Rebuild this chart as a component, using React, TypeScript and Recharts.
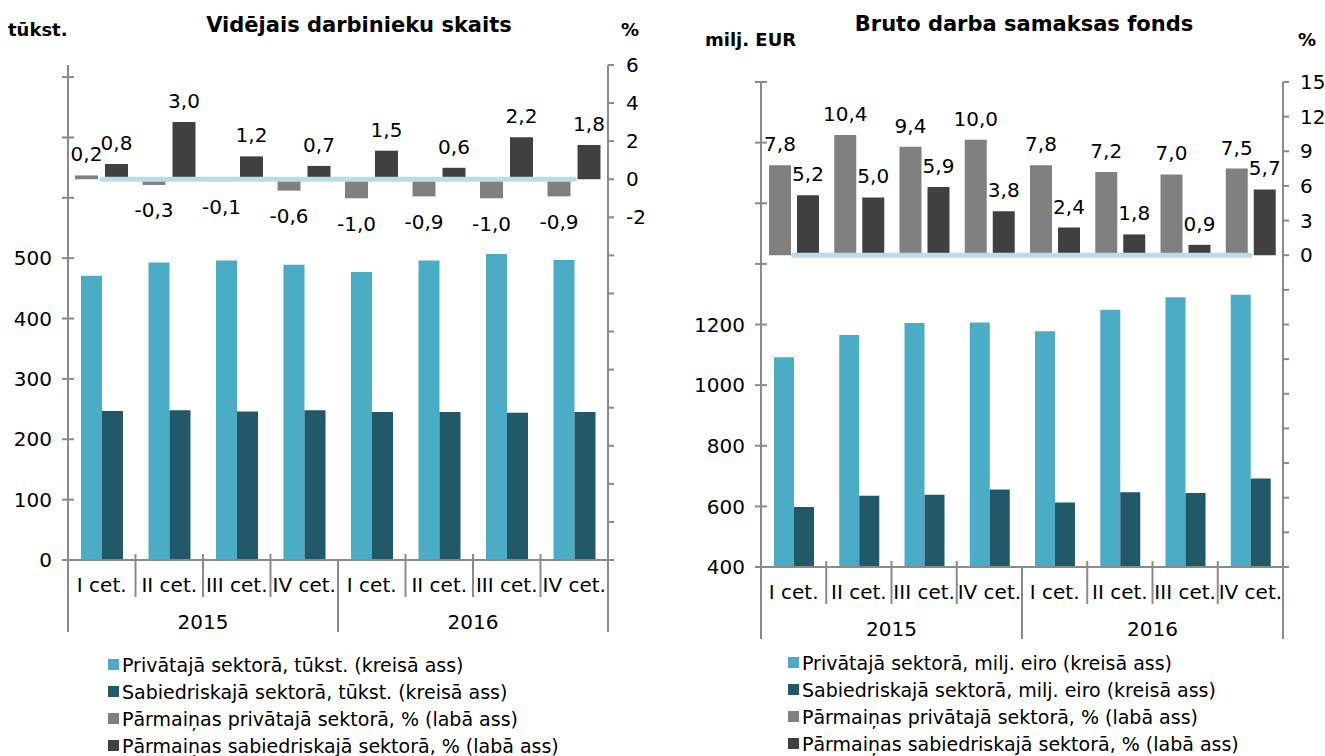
import React from 'react';
import { ComposedChart, Bar, XAxis, YAxis, LabelList, ReferenceLine } from 'recharts';

// ---------- data ----------
const quarters = ['I cet.', 'II cet.', 'III cet.', 'IV cet.', 'I cet.', 'II cet.', 'III cet.', 'IV cet.'];
const years = ['2015', '2016'];
const periodKeys = ['2015-I', '2015-II', '2015-III', '2015-IV', '2016-I', '2016-II', '2016-III', '2016-IV'];

const empPrivate = [471, 493, 496, 489, 477, 496, 507, 497];
const empPublic = [247, 248, 246, 248, 245, 245, 244, 245];
const empPrivateChange = [0.2, -0.3, -0.1, -0.6, -1.0, -0.9, -1.0, -0.9];
const empPublicChange = [0.8, 3.0, 1.2, 0.7, 1.5, 0.6, 2.2, 1.8];

const wagePrivate = [1092, 1165, 1205, 1207, 1178, 1249, 1290, 1298];
const wagePublic = [598, 635, 638, 656, 613, 647, 644, 692];
const wagePrivateChange = [7.8, 10.4, 9.4, 10.0, 7.8, 7.2, 7.0, 7.5];
const wagePublicChange = [5.2, 5.0, 5.9, 3.8, 2.4, 1.8, 0.9, 5.7];

const empLeftTicks = [0, 100, 200, 300, 400, 500, 600, 700, 800];
const empRightTicks = [-20, -18, -16, -14, -12, -10, -8, -6, -4, -2, 0, 2, 4, 6];
const wageLeftTicks = [400, 600, 800, 1000, 1200, 1400, 1600, 1800, 2000];
const wageRightTicks = [-27, -24, -21, -18, -15, -12, -9, -6, -3, 0, 3, 6, 9, 12, 15];

const empLegend = [
  'Privātajā sektorā, tūkst. (kreisā ass)',
  'Sabiedriskajā sektorā, tūkst. (kreisā ass)',
  'Pārmaiņas privātajā sektorā, % (labā ass)',
  'Pārmaiņas sabiedriskajā sektorā, % (labā ass)',
];
const wageLegend = [
  'Privātajā sektorā, milj. eiro (kreisā ass)',
  'Sabiedriskajā sektorā, milj. eiro (kreisā ass)',
  'Pārmaiņas privātajā sektorā, % (labā ass)',
  'Pārmaiņas sabiedriskajā sektorā, % (labā ass)',
];

// ---------- styles ----------
const FONT = '"DejaVu Sans", Verdana, sans-serif';
const FS = 20;
const AXIS = '#8a8a8a';
const C_PRIV = '#4bacc6';
const C_PUB = '#215968';
const C_PRIV_CHG = '#808080';
const C_PUB_CHG = '#404040';
const C_ZERO = '#b7dee8';
const seriesColors = [C_PRIV, C_PUB, C_PRIV_CHG, C_PUB_CHG];

const buildRows = (priv: number[], pub: number[], privChg: number[], pubChg: number[]) =>
  periodKeys.map((key, i) => ({
    key,
    quarter: quarters[i],
    year: years[Math.floor(i / 4)],
    priv: priv[i],
    pub: pub[i],
    privChg: privChg[i],
    pubChg: pubChg[i],
  }));

const empRows = buildRows(empPrivate, empPublic, empPrivateChange, empPublicChange);
const wageRows = buildRows(wagePrivate, wagePublic, wagePrivateChange, wagePublicChange);

const fmt = (v: number) => v.toFixed(1).replace('.', ',');

const CategoryTick = (props: any) => {
  const { x, y, payload, index, width, visibleTicksCount, rows } = props;
  const count = visibleTicksCount || rows.length;
  const half = payload && typeof payload.offset === 'number' && payload.offset > 0 ? payload.offset : width / count / 2;
  const band = half * 2;
  const row = rows[index];
  const leftX = x - half;
  const groupStart = index % 4 === 0;
  return (
    <g>
      <line x1={leftX} x2={leftX} y1={groupStart ? y : y - 6} y2={groupStart ? y + 72 : y + 37} stroke={AXIS} strokeWidth={2} />
      {index === count - 1 && <line x1={x + half} x2={x + half} y1={y} y2={y + 72} stroke={AXIS} strokeWidth={2} />}
      <text x={x} y={y + 25} dy="0.36em" textAnchor="middle" fontSize={FS} fill="#000" fontFamily={FONT}>
        {row.quarter}
      </text>
      {groupStart && (
        <text x={leftX + 2 * band} y={y + 62} dy="0.36em" textAnchor="middle" fontSize={FS} fill="#000" fontFamily={FONT}>
          {row.year}
        </text>
      )}
    </g>
  );
};

const LeftTick = (props: any) => {
  const { x, y, payload, maxLabel } = props;
  return (
    <g>
      <line x1={x - 6} x2={x + 6} y1={y} y2={y} stroke={AXIS} strokeWidth={2} />
      {payload.value <= maxLabel && (
        <text x={x - 16} y={y} dy="0.36em" textAnchor="end" fontSize={FS} fill="#000" fontFamily={FONT}>
          {payload.value}
        </text>
      )}
    </g>
  );
};

const ChangeLabel = (props: any) => {
  const vb = props.viewBox && typeof props.viewBox.x === 'number' ? props.viewBox : props;
  const x = Number(vb.x);
  const y = Number(vb.y);
  const w = Number(vb.width);
  const h = Number(vb.height);
  const v = Number(props.value);
  const top = Math.min(y, y + h);
  const bottom = Math.max(y, y + h);
  const ty = v >= 0 ? top - 14 : bottom + 18 + 14.5;
  return (
    <text x={x + w / 2} y={ty} textAnchor="middle" fontSize={FS} fill="#000" fontFamily={FONT}>
      {fmt(v)}
    </text>
  );
};

type PanelProps = {
  rows: any[];
  left: number;
  width: number;
  height: number;
  leftW: number;
  rightW: number;
  top: number;
  axisH: number;
  levelDomain: [number, number];
  levelTicks: number[];
  levelMaxLabel: number;
  pctDomain: [number, number];
  pctTicks: number[];
  pctMinLabel: number;
  pctMargin: number;
  levelBar: number;
  pctBar: number;
  pctGap: number;
};

const Panel = (p: PanelProps) => {
  const common = { width: p.width, height: p.height, data: p.rows };
  return (
    <div style={{ position: 'absolute', left: p.left, top: 0, width: p.width, height: p.height }}>
      <div style={{ position: 'absolute', left: 0, top: 0 }}>
        <ComposedChart {...common} margin={{ top: p.top, right: p.rightW, bottom: 0, left: 0 }} barGap={0} style={{ fontFamily: FONT }}>
          <XAxis
            dataKey="key"
            height={p.axisH}
            interval={0}
            tickSize={0}
            tickMargin={0}
            tickLine={false}
            axisLine={{ stroke: AXIS, strokeWidth: 2 }}
            tick={(tp: any) => <CategoryTick {...tp} rows={p.rows} />}
          />
          <YAxis
            yAxisId="lvl"
            orientation="left"
            width={p.leftW}
            domain={p.levelDomain}
            ticks={p.levelTicks}
            allowDataOverflow
            interval={0}
            tickSize={0}
            tickMargin={0}
            tickLine={false}
            axisLine={{ stroke: AXIS, strokeWidth: 2 }}
            tick={(tp: any) => <LeftTick {...tp} maxLabel={p.levelMaxLabel} />}
          />
          <Bar yAxisId="lvl" dataKey="priv" fill={C_PRIV} barSize={p.levelBar} isAnimationActive={false} />
          <Bar yAxisId="lvl" dataKey="pub" fill={C_PUB} barSize={p.levelBar} isAnimationActive={false} />
        </ComposedChart>
      </div>
      <div style={{ position: 'absolute', left: 0, top: 0 }}>
        <ComposedChart {...common} margin={{ top: p.top, right: 0, bottom: p.axisH, left: p.leftW }} barGap={p.pctGap} style={{ fontFamily: FONT }}>
          <XAxis dataKey="key" hide />
          <YAxis
            yAxisId="pct"
            orientation="right"
            width={p.rightW}
            domain={p.pctDomain}
            ticks={p.pctTicks}
            allowDataOverflow
            interval={0}
            tickSize={6}
            tickMargin={p.pctMargin}
            tickLine={{ stroke: AXIS, strokeWidth: 2 }}
            axisLine={{ stroke: AXIS, strokeWidth: 2 }}
            tick={{ fontSize: FS, fill: '#000', fontFamily: FONT }}
            tickFormatter={(v: number) => (v >= p.pctMinLabel ? String(v) : '')}
          />
          <Bar yAxisId="pct" dataKey="privChg" fill={C_PRIV_CHG} barSize={p.pctBar} isAnimationActive={false}>
            <LabelList dataKey="privChg" content={(lp: any) => <ChangeLabel {...lp} />} />
          </Bar>
          <Bar yAxisId="pct" dataKey="pubChg" fill={C_PUB_CHG} barSize={p.pctBar} isAnimationActive={false}>
            <LabelList dataKey="pubChg" content={(lp: any) => <ChangeLabel {...lp} />} />
          </Bar>
          <ReferenceLine
            yAxisId="pct"
            segment={[{ x: periodKeys[0], y: 0 }, { x: periodKeys[periodKeys.length - 1], y: 0 }]}
            stroke={C_ZERO}
            strokeWidth={5}
            strokeLinecap="round"
          />
        </ComposedChart>
      </div>
    </div>
  );
};

const Legend = ({ items, left, top }: { items: string[]; left: number; top: number }) => (
  <div style={{ position: 'absolute', left, top, fontFamily: FONT, fontSize: 19, color: '#000' }}>
    {items.map((t, i) => (
      <div key={t} style={{ display: 'flex', alignItems: 'center', height: 27, whiteSpace: 'nowrap', lineHeight: '22px' }}>
        <span style={{ display: 'inline-block', width: 11, height: 11, background: seriesColors[i], marginRight: 3 }} />
        <span>{t}</span>
      </div>
    ))}
  </div>
);

const txt = (s: string, style: React.CSSProperties) => (
  <div style={{ position: 'absolute', fontFamily: FONT, fontWeight: 'bold', color: '#000', whiteSpace: 'nowrap', lineHeight: 'normal', ...style }}>{s}</div>
);

export default function App() {
  return (
    <div style={{ position: 'absolute', left: 0, top: 0, width: 1325, height: 756, background: '#fff', overflow: 'hidden', fontFamily: FONT }}>
      {txt('Vidējais darbinieku skaits', { left: 159, width: 400, textAlign: 'center', top: 12.5, fontSize: 21 })}
      {txt('tūkst.', { left: 8, top: 19.3, fontSize: 18 })}
      {txt('%', { left: 621, top: 19.3, fontSize: 18 })}
      {txt('Bruto darba samaksas fonds', { left: 824, width: 400, textAlign: 'center', top: 11.5, fontSize: 21 })}
      {txt('milj. EUR', { left: 705, top: 29.3, fontSize: 18 })}
      {txt('%', { left: 1298, top: 29.3, fontSize: 18 })}

      <Panel
        rows={empRows}
        left={0}
        width={660}
        height={640}
        leftW={68}
        rightW={52}
        top={65}
        axisH={80}
        levelDomain={[0, 820]}
        levelTicks={empLeftTicks}
        levelMaxLabel={500}
        pctDomain={[-20, 6]}
        pctTicks={empRightTicks}
        pctMinLabel={-2}
        pctMargin={12}
        levelBar={21}
        pctBar={23}
        pctGap={7}
      />
      <Panel
        rows={wageRows}
        left={680}
        width={645}
        height={650}
        leftW={81}
        rightW={42}
        top={82}
        axisH={83}
        levelDomain={[400, 2000]}
        levelTicks={wageLeftTicks}
        levelMaxLabel={1200}
        pctDomain={[-27, 15]}
        pctTicks={wageRightTicks}
        pctMinLabel={0}
        pctMargin={11}
        levelBar={20}
        pctBar={22}
        pctGap={6}
      />

      <Legend items={empLegend} left={108} top={651} />
      <Legend items={wageLegend} left={788} top={649} />
    </div>
  );
}
